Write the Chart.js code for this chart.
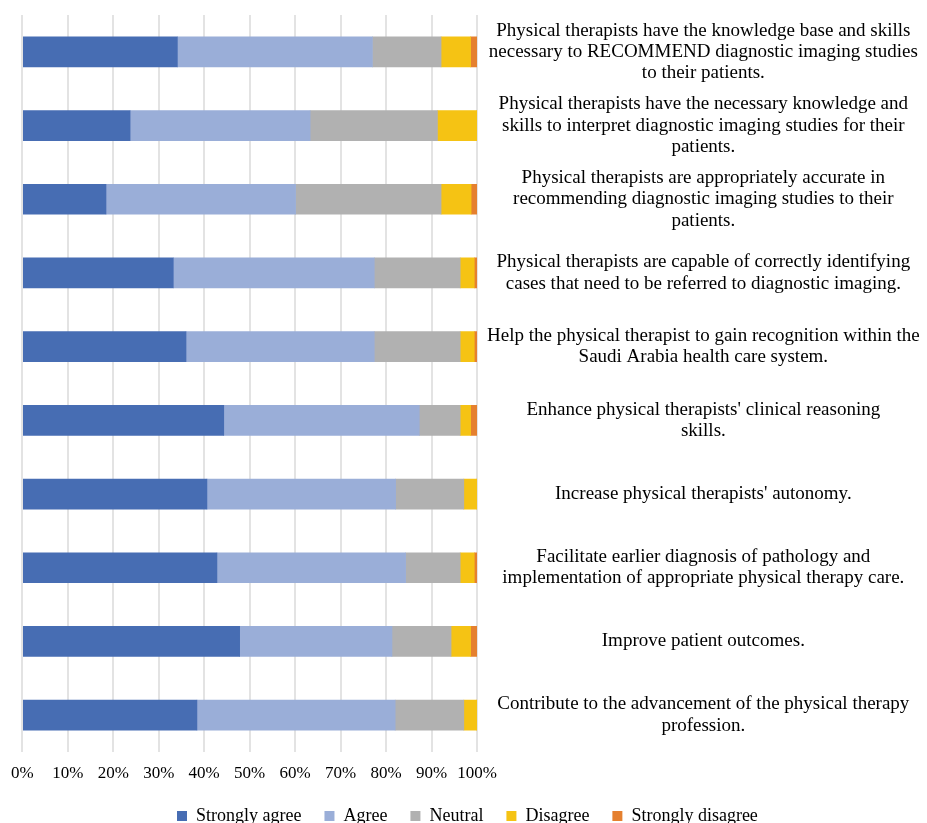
<!DOCTYPE html>
<html>
<head>
<meta charset="utf-8">
<script src="https://cdn.jsdelivr.net/npm/chart.js@4"></script>
<style>
  html, body { margin: 0; padding: 0; background: #fff; overflow: hidden; }
  #wrap { width: 927px; height: 835px; }
</style>
</head>
<body>
<div id="wrap"><canvas id="chart"></canvas></div>
<script>
// statements (top to bottom)
const statements = [
    ["Physical therapists have the knowledge base and skills", "necessary to RECOMMEND diagnostic imaging studies", "to their patients."],
    ["Physical therapists have the necessary knowledge and", "skills to interpret diagnostic imaging studies for their", "patients."],
    ["Physical therapists are appropriately accurate in", "recommending diagnostic imaging studies to their", "patients."],
    ["Physical therapists are capable of correctly identifying", "cases that need to be referred to diagnostic imaging."],
    ["Help the physical therapist to gain recognition within the", "Saudi Arabia health care system."],
    ["Enhance physical therapists' clinical reasoning", "skills."],
    "Increase physical therapists' autonomy.",
    ["Facilitate earlier diagnosis of pathology and", "implementation of appropriate physical therapy care."],
    "Improve patient outcomes.",
    ["Contribute to the advancement of the physical therapy", "profession."]
];

// answers in %
const stronglyAgree    = [34.1, 23.7, 18.4, 33.2, 36.0, 44.3, 40.6, 42.8, 47.8, 38.4];
const agree            = [42.9, 39.6, 41.7, 44.2, 41.4, 43.0, 41.5, 41.5, 33.5, 43.6];
const neutral          = [15.1, 28.0, 32.0, 18.9, 18.9,  9.0, 15.0, 12.0, 13.0, 15.1];
const disagree         = [ 6.5,  8.7,  6.6,  3.1,  3.1,  2.3,  2.9,  3.1,  4.3,  2.9];
const stronglyDisagree = [ 1.4,  0.0,  1.3,  0.6,  0.6,  1.4,  0.0,  0.6,  1.4,  0.0];

const seriesNames = ["Strongly agree", "Agree", "Neutral", "Disagree", "Strongly disagree"];
const seriesColors = ["#476db3", "#9aaed8", "#b1b1b1", "#f5c314", "#e5802f"];

const FONT = "'Liberation Serif', 'Times New Roman', serif";

const mkSet = (i, values) => ({
    label: seriesNames[i],
    data: values,
    backgroundColor: seriesColors[i],
    borderWidth: 0,
    barThickness: 30
});

// put the first legend box where the original has it
const legendShift = {
    id: "legendShift",
    afterLayout(chart) {
        const lg = chart.legend;
        if (!lg || !lg.lineWidths) return;
        const pad = lg.options.labels.padding;
        lg.right = 2 * 177 - lg.left - pad + lg.lineWidths[0];
    }
};

new Chart(document.getElementById("chart"), {
    type: "bar",
    data: {
        labels: statements,
        datasets: [
            mkSet(0, stronglyAgree),
            mkSet(1, agree),
            mkSet(2, neutral),
            mkSet(3, disagree),
            mkSet(4, stronglyDisagree)
        ]
    },
    plugins: [legendShift],
    options: {
        indexAxis: "y",
        responsive: true,
        maintainAspectRatio: false,
        animation: false,
        layout: { padding: { top: 15, left: 22, right: 0, bottom: 0 } },
        plugins: {
            tooltip: { enabled: false },
            legend: {
                position: "bottom",
                labels: {
                    boxWidth: 10,
                    boxHeight: 10,
                    padding: 23,
                    color: "#000",
                    font: { family: FONT, size: 18 }
                }
            }
        },
        scales: {
            x: {
                stacked: true,
                min: 0,
                max: 100,
                border: { display: false },
                grid: { color: "#e3e3e3", lineWidth: 2, drawTicks: false },
                afterFit: s => { s.height = 32; },
                ticks: {
                    stepSize: 10,
                    autoSkip: false,
                    maxRotation: 0,
                    padding: 11,
                    color: "#000",
                    font: { family: FONT, size: 17 },
                    callback: v => v + "%"
                }
            },
            y: {
                stacked: true,
                position: "right",
                border: { display: false },
                grid: { display: false, drawTicks: false },
                afterFit: s => {
                    s.width = 450;
                    s.paddingTop = 0;
                    s.paddingBottom = 0;
                },
                ticks: {
                    crossAlign: "center",
                    padding: 10,
                    color: "#000",
                    font: { family: FONT, size: 19, lineHeight: 1.12 }
                }
            }
        }
    }
});
</script>
</body>
</html>
